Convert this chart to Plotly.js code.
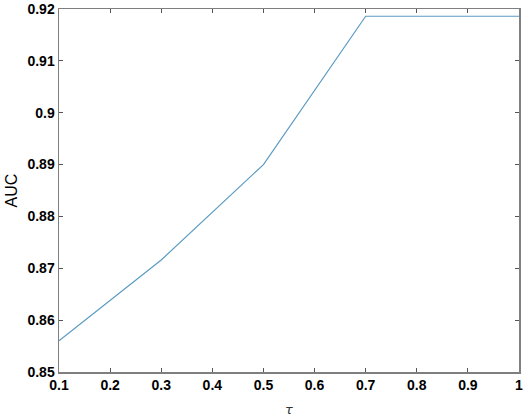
<!DOCTYPE html>
<html><head><meta charset="utf-8">
<script src="https://cdn.plot.ly/plotly-3.0.1.min.js"></script>
<style>html,body{margin:0;padding:0;background:#fff;}#chart{width:526px;height:419px;}</style>
</head><body><div id="chart"></div>
<script>
const tau = [0.1, 0.3, 0.5, 0.7, 0.9, 1.0];
const auc = [0.856, 0.8716, 0.8900, 0.9186, 0.9186, 0.9186];
const xTicks = [0.1, 0.2, 0.3, 0.4, 0.5, 0.6, 0.7, 0.8, 0.9, 1];
const xTickText = ['0.1','0.2','0.3','0.4','0.5','0.6','0.7','0.8','0.9','1'];
const yTicks = [0.85, 0.86, 0.87, 0.88, 0.89, 0.9, 0.91, 0.92];
const yTickText = ['0.85','0.86','0.87','0.88','0.89','0.9','0.91','0.92'];

const tickFont = {family: '"Liberation Sans Narrow", "Arial Narrow", "Liberation Sans", Arial, sans-serif', size: 14, color: '#000', weight: 'bold'};
const axisCommon = {
  showgrid: false, zeroline: false, showline: true, linecolor: '#7f7f7f', linewidth: 1.5,
  mirror: 'ticks', ticks: 'inside', ticklen: 4, tickwidth: 1, tickcolor: '#555',
  tickfont: tickFont
};
const data = [{
  x: tau, y: auc, type: 'scatter', mode: 'lines',
  line: {color: '#5b9bc2', width: 1.2}
}];
const layout = {
  width: 526, height: 419,
  margin: {l: 59, r: 7, t: 9, b: 47},
  paper_bgcolor: '#fff', plot_bgcolor: '#fff',
  showlegend: false,
  xaxis: Object.assign({}, axisCommon, {
    range: [0.1, 1], tickvals: xTicks, ticktext: xTickText,
    title: {text: '<i>τ</i>', font: {family: 'DejaVu Sans, sans-serif', size: 13, color: '#333'}, standoff: 12}
  }),
  yaxis: Object.assign({}, axisCommon, {
    range: [0.85, 0.92], tickvals: yTicks, ticktext: yTickText,
    title: {text: 'AUC', font: {family: 'Liberation Sans, Arial, sans-serif', size: 16, color: '#000'}, standoff: 6}
  })
};
Plotly.newPlot('chart', data, layout, {displayModeBar: false, staticPlot: true});
</script></body></html>
